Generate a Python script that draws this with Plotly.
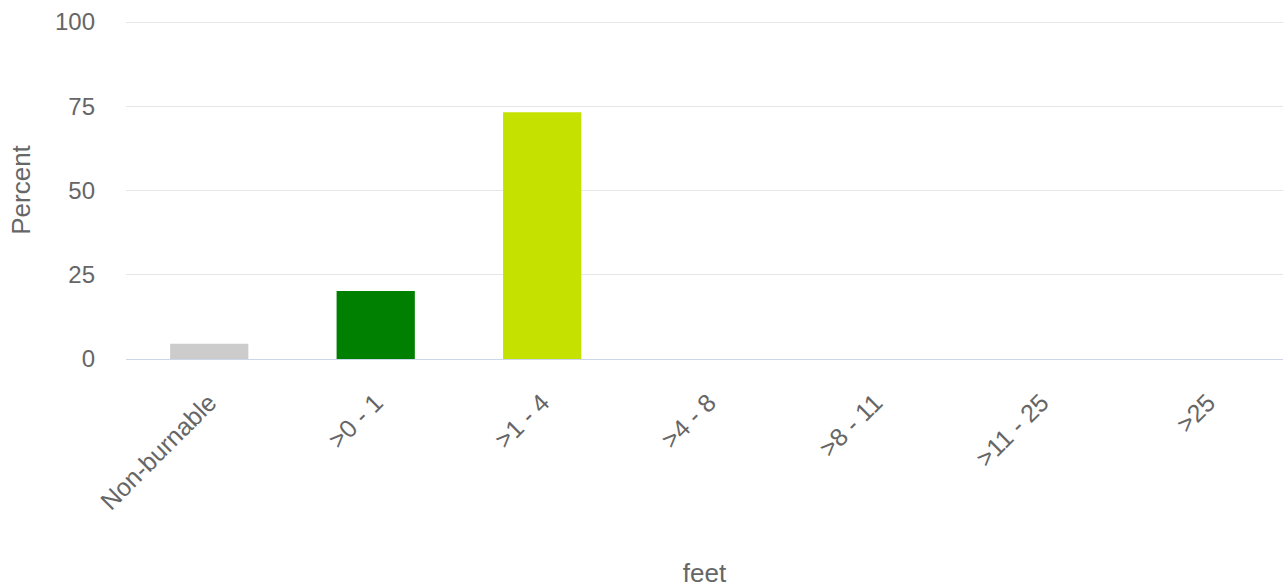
import plotly.graph_objects as go

categories = ["Non-burnable", ">0 - 1", ">1 - 4", ">4 - 8", ">8 - 11", ">11 - 25", ">25"]
percent = [4.5, 20.2, 73.2, 0, 0, 0, 0]
bar_colors = ["#cccccc", "#008000", "#c4e100", "#c4e100", "#c4e100", "#c4e100", "#c4e100"]
y_ticks = [0, 25, 50, 75, 100]

FONT = "Liberation Sans, Arial, sans-serif"
TXT = "#666666"

fig = go.Figure(
    go.Bar(
        x=categories,
        y=percent,
        marker=dict(color=bar_colors, line=dict(width=0)),
        hovertemplate="%{x}: %{y}<extra></extra>",
    )
)

fig.update_layout(
    width=1283,
    height=588,
    margin=dict(l=126, r=0, t=21, b=229),
    paper_bgcolor="white",
    plot_bgcolor="white",
    bargap=0.53,
    showlegend=False,
    font=dict(family=FONT, color=TXT, size=23),
)

fig.update_xaxes(
    type="category",
    range=[-0.5, 6.45],
    automargin=False,
    tickangle=-45,
    tickfont=dict(size=25, color=TXT),
    showgrid=False,
    showline=True,
    linecolor="#ccd6eb",
    linewidth=1,
    ticks="",
    ticklabelstandoff=18,
    title=dict(text="feet", font=dict(size=26, color=TXT), standoff=56),
)

fig.update_yaxes(
    range=[0, 100.3],
    automargin=False,
    tickvals=y_ticks,
    tickfont=dict(size=24, color=TXT),
    showgrid=True,
    gridcolor="#e6e6e6",
    gridwidth=1,
    zeroline=False,
    showline=False,
    ticks="",
    ticklabelstandoff=30,
    title=dict(text="Percent", font=dict(size=26, color=TXT), standoff=16),
)

fig.write_html(
    "out.html",
    config={"displayModeBar": False},
    post_script="document.body.style.margin='0';document.body.style.overflow='hidden';",
)
